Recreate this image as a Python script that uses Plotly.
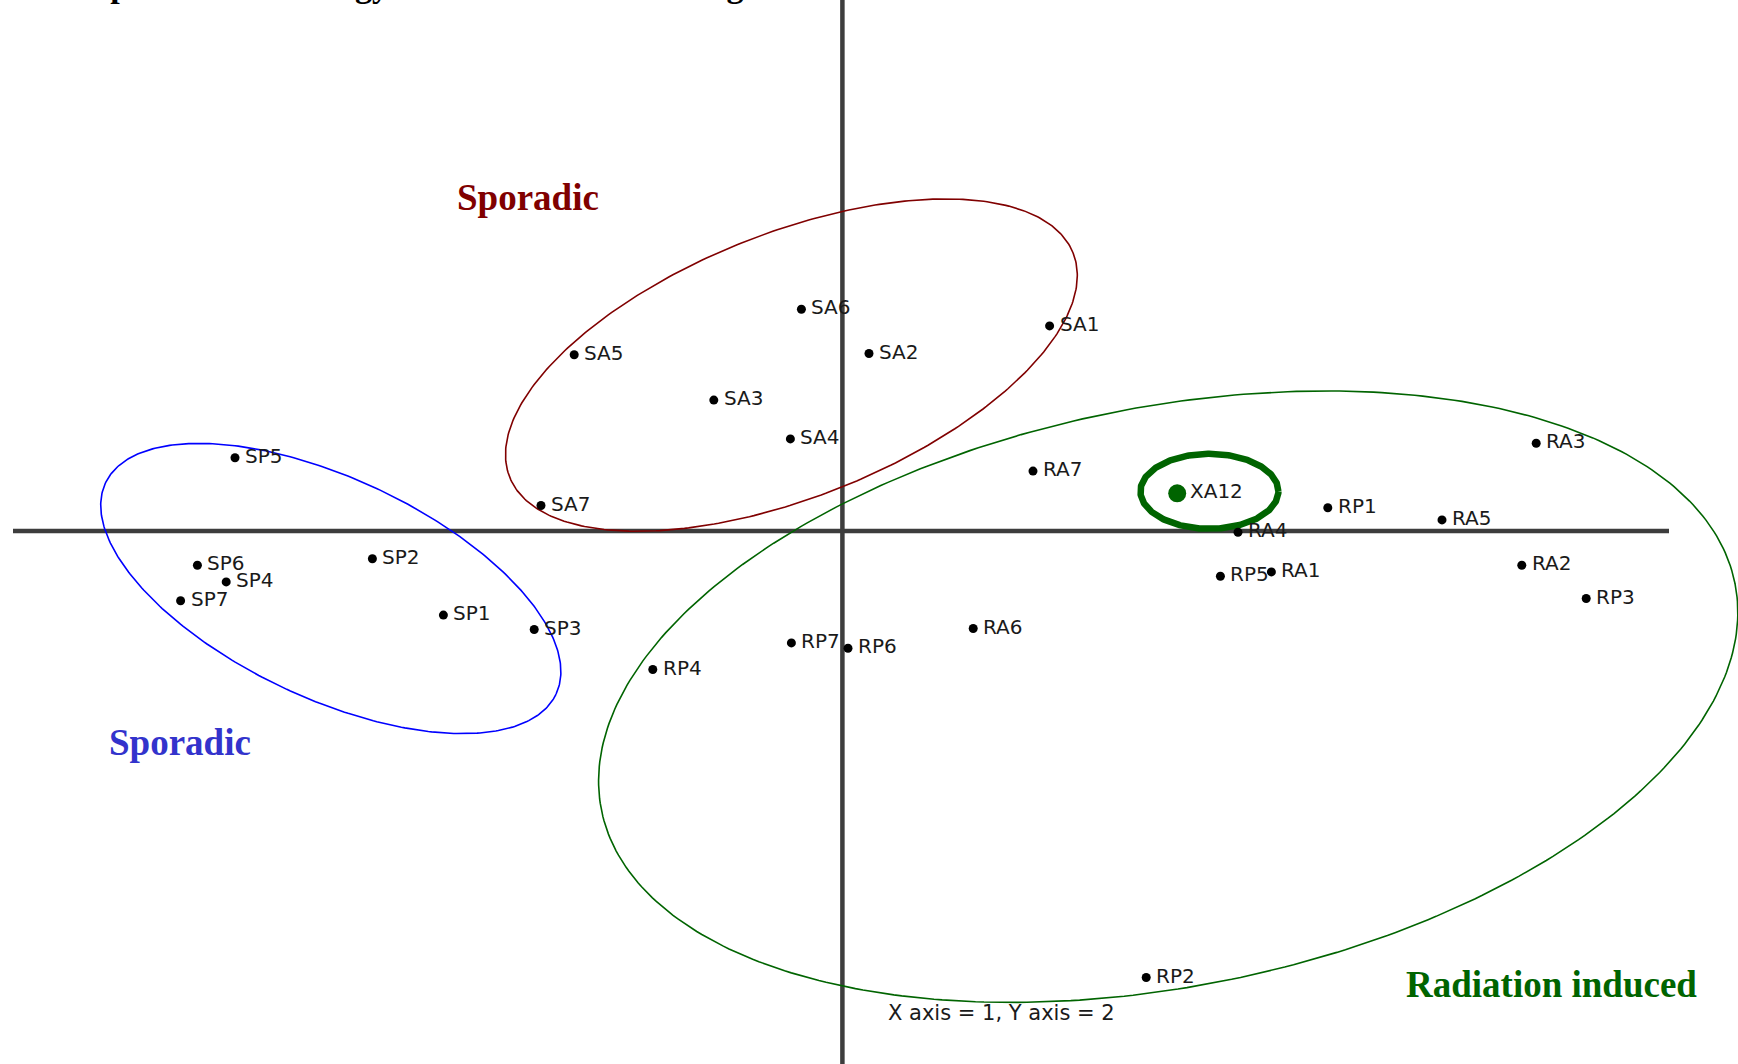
import numpy as np
import plotly.graph_objects as go

# Principal component scores (PC1 on x, PC2 on y) of the reference samples
sample_names = [
    "SP1", "SP2", "SP3", "SP4", "SP5", "SP6", "SP7",
    "SA1", "SA2", "SA3", "SA4", "SA5", "SA6", "SA7",
    "RA1", "RA2", "RA3", "RA4", "RA5", "RA6", "RA7",
    "RP1", "RP2", "RP3", "RP4", "RP5", "RP6", "RP7",
]
pc1 = [
    -1.995, -2.350, -1.541, -3.081, -3.037, -3.225, -3.309,
    1.036, 0.133, -0.643, -0.260, -1.341, -0.205, -1.507,
    2.145, 3.397, 3.469, 1.978, 2.998, 0.654, 0.953,
    2.427, 1.519, 3.719, -0.948, 1.890, 0.028, -0.255,
]
pc2 = [
    -0.421, -0.139, -0.493, -0.255, 0.366, -0.172, -0.349,
    1.025, 0.887, 0.654, 0.460, 0.881, 1.108, 0.127,
    -0.205, -0.172, 0.438, -0.007, 0.055, -0.488, 0.299,
    0.116, -2.233, -0.338, -0.693, -0.227, -0.587, -0.560,
]

# Unknown sample projected onto the same components
test_name = "XA12"
test_pc1 = 1.674
test_pc2 = 0.188

# Group ellipses: centre, semi-axes and rotation (degrees, counter-clockwise)
ellipse_groups = ["Sporadic (SA)", "Sporadic (SP)", "Radiation induced", "XA12"]
ellipse_cx = [-0.255, -2.558, 1.629, 1.835]
ellipse_cy = [0.829, -0.288, -0.829, 0.198]
ellipse_a = [1.516, 1.244, 2.890, 0.345]
ellipse_b = [0.660, 0.550, 1.448, 0.1875]
ellipse_deg = [21.7, -25.1, 11.3, 0.0]
ellipse_colors = ["#800000", "#0000ff", "#006400", "#006400"]
ellipse_widths = [1.6, 1.6, 1.6, 6.5]

# Plot window in score units (200 px per unit)
x_range = [-4.212, 4.478]
y_range = [-2.6655, 2.6545]
axis_x_extent = [-4.147, 4.133]

fig = go.Figure()

# Component axes through the origin
fig.add_shape(type="line", x0=axis_x_extent[0], x1=axis_x_extent[1], y0=0, y1=0,
              line=dict(color="#3d3d3d", width=4.5), layer="below")
fig.add_shape(type="line", x0=0, x1=0, y0=y_range[0], y1=y_range[1],
              line=dict(color="#3d3d3d", width=4.5), layer="below")

t = np.linspace(0, 2 * np.pi, 400)
for name, cx, cy, a, b, deg, col, w in zip(ellipse_groups, ellipse_cx, ellipse_cy,
                                           ellipse_a, ellipse_b, ellipse_deg,
                                           ellipse_colors, ellipse_widths):
    th = np.deg2rad(deg)
    ex = cx + a * np.cos(t) * np.cos(th) - b * np.sin(t) * np.sin(th)
    ey = cy + a * np.cos(t) * np.sin(th) + b * np.sin(t) * np.cos(th)
    fig.add_trace(go.Scatter(x=ex, y=ey, mode="lines", name=name,
                             line=dict(color=col, width=w), hoverinfo="skip"))

fig.add_trace(go.Scatter(x=pc1, y=pc2, mode="markers", text=sample_names,
                         marker=dict(color="black", size=9), name="samples"))
fig.add_trace(go.Scatter(x=[test_pc1], y=[test_pc2], mode="markers", text=[test_name],
                         marker=dict(color="#006400", size=18), name=test_name))

label_font = dict(family="DejaVu Sans", size=20, color="#1a1a1a")
annotations = []
for n, x, y in zip(sample_names + [test_name], pc1 + [test_pc1], pc2 + [test_pc2]):
    annotations.append(dict(x=x, y=y, text=n, showarrow=False, xanchor="left",
                            yanchor="middle", xshift=8 if n != test_name else 11,
                            yshift=2, font=label_font))

serif_bold = "Liberation Serif"
annotations += [
    dict(x=-1.574, y=1.6695, text="<b>Sporadic</b>", showarrow=False,
         font=dict(family=serif_bold, size=37, color="#800000")),
    dict(x=-3.314, y=-1.0585, text="<b>Sporadic</b>", showarrow=False,
         font=dict(family=serif_bold, size=37, color="#3333cc")),
    dict(x=3.543, y=-2.2655, text="<b>Radiation induced</b>", showarrow=False,
         font=dict(family=serif_bold, size=37, color="#006400")),
    dict(x=0.218, y=-2.4105, text="X axis = 1, Y axis = 2", showarrow=False,
         xanchor="left", font=dict(family="DejaVu Sans", size=21, color="#1a1a1a")),
    dict(xref="paper", yref="paper", x=56 / 1738, y=1 - 6 / 1064,
         xanchor="left", yanchor="bottom",
         text="<b>Proposed methodology for the unknown testing set</b>", showarrow=False,
         font=dict(family=serif_bold, size=34, color="black")),
]

fig.update_layout(
    width=1738, height=1064, autosize=False,
    margin=dict(l=0, r=0, t=0, b=0),
    paper_bgcolor="white", plot_bgcolor="white",
    showlegend=False,
    xaxis=dict(range=x_range, visible=False, fixedrange=True),
    yaxis=dict(range=y_range, visible=False, fixedrange=True),
    annotations=annotations,
)

fig.write_html("out.html")
